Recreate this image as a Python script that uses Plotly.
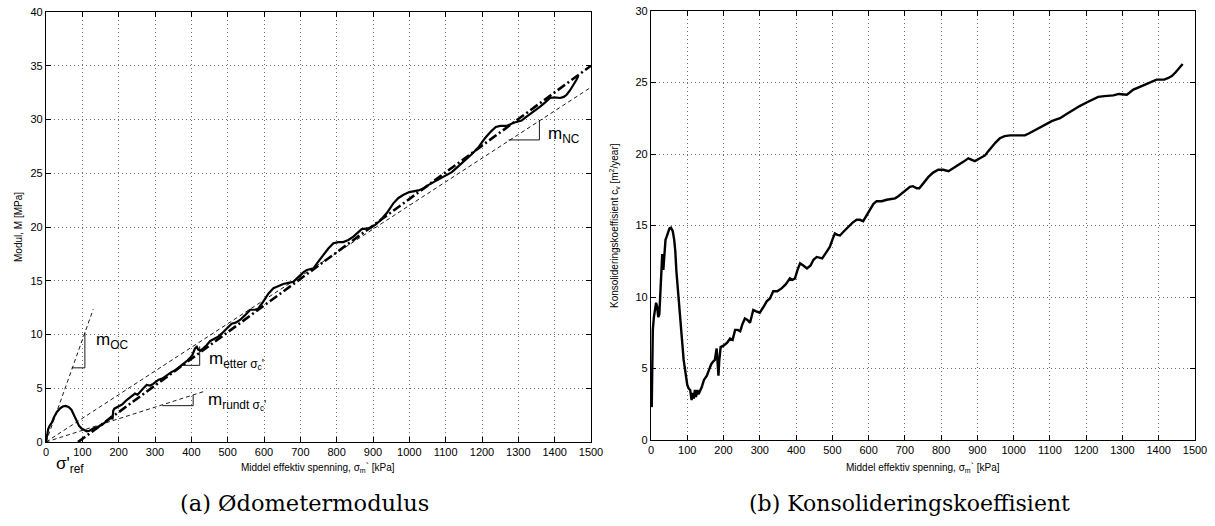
import plotly.graph_objects as go

# ---------------- data: left panel (oedometer modulus) ----------------
sigma_M = [0, 3, 6, 10, 16, 22, 30, 38, 46, 54, 62, 70, 77, 84, 91, 98, 105, 112, 120, 130,
           142, 153, 165, 175, 181, 183, 185, 188, 200, 210, 222, 235, 245, 252, 259, 268, 277,
           287, 295, 310, 320, 332, 345, 357, 369, 380, 390, 396, 403, 410, 415, 419, 425, 432,
           442, 452, 465, 474, 484, 497, 511, 522, 534, 548, 562, 575, 584, 598, 612, 626, 640,
           653, 667, 681, 690, 699, 709, 718, 727, 736, 750, 763, 777, 791, 805, 818, 832, 846,
           858, 869, 880, 892, 906, 920, 938, 956, 970, 984, 1000, 1015, 1025, 1040, 1052, 1068,
           1084, 1100, 1117, 1130, 1144, 1160, 1176, 1192, 1208, 1225, 1238, 1250, 1268, 1287,
           1309, 1320, 1332, 1346, 1360, 1374, 1387, 1400, 1415, 1425, 1433, 1442, 1452, 1460, 1465]
modul_M = [0, 0.7, 1.2, 1.5, 1.8, 2.3, 2.8, 3.1, 3.3, 3.35, 3.25, 3.0, 2.5, 1.9, 1.5, 1.25, 1.1,
           1.0, 1.05, 1.25, 1.4, 1.58, 1.9, 2.2, 2.4, 2.1, 2.9, 3.1, 3.3, 3.5, 3.9, 4.2, 4.5, 4.4,
           4.7, 5.0, 5.3, 5.25, 5.4, 5.8, 5.9, 6.2, 6.5, 6.7, 7.0, 7.3, 7.6, 7.8, 8.1, 8.7, 8.85,
           8.6, 8.5, 8.7, 9.0, 9.4, 9.6, 9.8, 10.1, 10.5, 11.0, 11.1, 11.35, 11.8, 12.3, 12.3,
           12.4, 13.05, 13.8, 14.3, 14.5, 14.7, 14.8, 14.9, 15.2, 15.5, 15.8, 16.0, 16.05, 16.15,
           16.8, 17.4, 18.0, 18.5, 18.6, 18.6, 18.8, 19.1, 19.5, 19.8, 19.85, 19.9, 20.2, 20.6,
           21.3, 22.2, 22.7, 23.0, 23.25, 23.35, 23.4, 23.6, 23.9, 24.2, 24.5, 24.8, 25.1, 25.5,
           25.9, 26.4, 26.9, 27.5, 28.25, 28.9, 29.3, 29.4, 29.4, 29.7, 29.9, 30.2, 30.5, 30.8,
           31.2, 31.6, 32.0, 32.05, 32.0, 32.1, 32.3, 32.7, 33.2, 33.7, 34.05]

# fitted NC line (dash-dot): end points
fit_sigma = [88, 1500]
fit_M = [0, 35]

# slope reference lines (dashed) from origin
oc_sigma = [0, 130]
oc_M = [0, 12.35]
nc_sigma = [0, 1500]
nc_M = [0, 33.0]
rundt_sigma = [0, 433]
rundt_M = [0, 4.68]

# slope triangles (thin solid)
tri_oc_sigma = [71, 107, 107]
tri_oc_M = [6.9, 6.9, 10.2]
tri_etter_sigma = [371, 423, 423]
tri_etter_M = [7.13, 7.13, 8.9]
tri_rundt_sigma = [320, 405, 405]
tri_rundt_M = [3.38, 3.38, 4.37]
tri_nc_sigma = [1273, 1358, 1358]
tri_nc_M = [28.1, 28.1, 29.95]

# ---------------- data: right panel (consolidation coefficient) ----------------
sigma_cv = [2, 3, 4, 5, 8, 11, 14, 17, 20, 23, 26, 29, 31, 34, 37, 40, 43, 47, 51, 55, 60, 64,
            67, 70, 75, 80, 85, 90, 94, 100, 104, 108, 112, 115, 118, 121, 124, 128, 131, 135,
            140, 146, 154, 160, 166, 172, 176, 181, 183, 186, 188, 192, 200, 210, 218, 225, 232,
            239, 246, 252, 259, 266, 273, 282, 290, 300, 310, 319, 328, 337, 348, 360, 372, 383,
            390, 397, 404, 411, 420, 430, 440, 448, 457, 465, 472, 480, 493, 500, 507, 514, 521,
            532, 544, 556, 567, 576, 585, 594, 604, 613, 622, 636, 650, 662, 673, 682, 691, 703,
            714, 722, 733, 740, 752, 765, 778, 792, 806, 820, 833, 847, 861, 875, 884, 893, 907,
            921, 930, 939, 950, 962, 975, 990, 1010, 1031, 1043, 1054, 1068, 1082, 1093, 1105,
            1116, 1128, 1146, 1164, 1182, 1201, 1217, 1233, 1250, 1275, 1290, 1298, 1312, 1320,
            1330, 1348, 1367, 1380, 1394, 1405, 1415, 1425, 1436, 1446, 1456, 1466]
cv = [2.3, 4.5, 6.5, 7.7, 8.6, 9.3, 9.6, 9.3, 8.6, 8.8, 10.5, 12.9, 13.0, 11.9, 13.2, 14.0, 14.2,
      14.6, 14.8, 14.85, 14.6, 14.0, 13.2, 11.8, 10.3, 8.4, 6.8, 5.6, 4.9, 3.85, 3.6, 3.5, 2.8,
      3.3, 2.9, 3.5, 3.0, 3.5, 3.2, 3.4, 3.7, 4.2, 4.5, 4.9, 5.3, 5.5, 5.6, 6.4, 5.2, 4.5, 5.5,
      6.5, 6.6, 6.8, 7.1, 7.0, 7.7, 7.7, 7.6, 8.1, 8.5, 8.4, 8.2, 9.1, 9.0, 8.9, 9.3, 9.7, 9.9,
      10.4, 10.4, 10.6, 10.9, 11.3, 11.2, 11.3, 11.9, 12.35, 12.2, 12.0, 12.2, 12.6, 12.8, 12.75,
      12.7, 13.0, 13.5, 14.0, 14.45, 14.35, 14.3, 14.6, 14.9, 15.2, 15.4, 15.4, 15.3, 15.7, 16.1,
      16.5, 16.7, 16.7, 16.8, 16.85, 16.9, 17.05, 17.25, 17.5, 17.7, 17.75, 17.6, 17.6, 18.0,
      18.4, 18.7, 18.9, 18.9, 18.8, 19.0, 19.2, 19.45, 19.7, 19.6, 19.5, 19.7, 19.9, 20.2, 20.5,
      20.8, 21.1, 21.25, 21.3, 21.3, 21.3, 21.45, 21.6, 21.8, 22.0, 22.15, 22.3, 22.4, 22.5,
      22.8, 23.1, 23.35, 23.6, 23.8, 24.0, 24.05, 24.1, 24.2, 24.2, 24.15, 24.3, 24.5, 24.7,
      24.9, 25.05, 25.2, 25.2, 25.2, 25.3, 25.45, 25.7, 26.0, 26.3]

x_ticks = list(range(0, 1501, 100))
y1_ticks = list(range(0, 41, 5))
y2_ticks = list(range(0, 31, 5))

W, H = 1215, 526
SANS = "Liberation Sans, Arial, sans-serif"
SERIF = "DejaVu Serif, Liberation Serif, serif"

fig = go.Figure()

def add_line(x, y, axes, width, dash="solid", color="black"):
    xa, ya = axes
    fig.add_trace(go.Scatter(x=x, y=y, mode="lines", xaxis=xa, yaxis=ya,
                             line=dict(color=color, width=width, dash=dash),
                             hoverinfo="skip", showlegend=False))

L = ("x", "y")
R = ("x2", "y2")
thin_dash = "4px,3px"
add_line(oc_sigma, oc_M, L, 0.9, thin_dash)
add_line(nc_sigma, nc_M, L, 0.9, thin_dash)
add_line(rundt_sigma, rundt_M, L, 0.9, thin_dash)
for tx, ty in [(tri_oc_sigma, tri_oc_M), (tri_etter_sigma, tri_etter_M),
               (tri_rundt_sigma, tri_rundt_M), (tri_nc_sigma, tri_nc_M)]:
    add_line(tx, ty, L, 0.9)
add_line(fit_sigma, fit_M, L, 2.6, "9px,3px,2px,3px")
add_line(sigma_M, modul_M, L, 2.2)
add_line(sigma_cv, cv, R, 2.4)

def px2x(px):
    return px / W

def py2y(py):
    return 1 - py / H

axis_common = dict(showline=True, linecolor="black", linewidth=1.2, mirror="ticks",
                   ticks="inside", ticklen=5, tickcolor="black", showgrid=True,
                   gridcolor="#6e6e6e", gridwidth=1, griddash="1px,3px", zeroline=False,
                   ticklabeloverflow="allow",
                   tickfont=dict(family=SANS, size=11, color="black"), automargin=False)

fig.update_layout(
    width=W, height=H, margin=dict(l=0, r=0, t=0, b=0),
    paper_bgcolor="white", plot_bgcolor="white", showlegend=False,
    xaxis=dict(domain=[px2x(46), px2x(591)], range=[0, 1500], tickvals=x_ticks,
               anchor="y", **axis_common),
    yaxis=dict(domain=[py2y(442), py2y(12)], range=[0, 40], tickvals=y1_ticks,
               anchor="x", **axis_common),
    xaxis2=dict(domain=[px2x(651), px2x(1195)], range=[0, 1500], tickvals=x_ticks,
                anchor="y2", **axis_common),
    yaxis2=dict(domain=[py2y(440), py2y(11)], range=[0, 30], tickvals=y2_ticks,
                anchor="x2", **axis_common),
)

ann = []
def paper_text(text, px, py, size, family=SANS, angle=0, xanchor="center", yanchor="middle"):
    ann.append(dict(text=text, x=px2x(px), y=py2y(py), xref="paper", yref="paper",
                    showarrow=False, textangle=angle, xanchor=xanchor, yanchor=yanchor,
                    font=dict(family=family, size=size, color="black")))

def data_text(text, x, y, size, xa="x", ya="y"):
    ann.append(dict(text=text, x=x, y=y, xref=xa, yref=ya, showarrow=False,
                    xanchor="left", yanchor="middle",
                    font=dict(family=SANS, size=size, color="black")))

# axis titles
paper_text("Middel effektiv spenning, σ<sub>m</sub>` [kPa]", 318, 468, 10)
paper_text("Middel effektiv spenning, σ<sub>m</sub>` [kPa]", 923, 468, 10)
paper_text("Modul, M [MPa]", 18, 227, 10, angle=-90)
paper_text("Konsolideringskoeffisient c<sub>v</sub> [m<sup>2</sup>/year]", 614, 226, 10, angle=-90)

# captions
paper_text("(a) Ødometermodulus", 304, 503, 22.5, family=SERIF)
paper_text("(b) Konsolideringskoeffisient", 909, 503, 22, family=SERIF)

# slope labels
data_text("m<sub>OC</sub>", 133, 9.4, 17)
data_text("m<sub>etter σ<sub>c</sub>'</sub>", 443, 7.6, 17)
data_text("m<sub>rundt σ<sub>c</sub>'</sub>", 440, 3.8, 17)
data_text("m<sub>NC</sub>", 1375, 28.6, 17)
paper_text("σ'<sub>ref</sub>", 54, 465, 17, xanchor="left")

fig.update_layout(annotations=ann)
# remove the default 8px page margin so the 1215x526 figure fills the window exactly
fig.write_html("out.html", config={"displayModeBar": False},
               post_script="document.body.style.margin='0';document.body.style.overflow='hidden';")
